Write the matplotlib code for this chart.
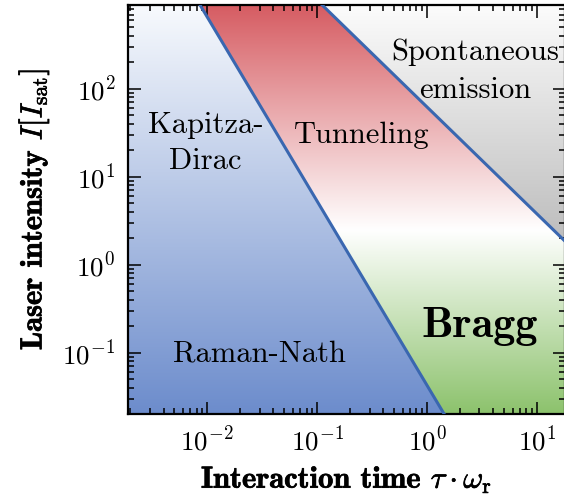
import matplotlib

matplotlib.use('Agg')
import matplotlib.pyplot as plt
import numpy as np
from matplotlib.patches import Polygon
import matplotlib.patheffects as pe

plt.rcParams['font.family'] = 'cmr10'
plt.rcParams['mathtext.fontset'] = 'cm'
plt.rcParams['axes.formatter.use_mathtext'] = True

# axis ranges
TAU_LIM = (1.9e-3, 18.0)
I_LIM = (0.02, 900.0)

# regime boundaries (end points of power-law lines)
KD_TAU = [8.6e-3, 1.43]
KD_I = [900.0, 0.02]
SE_TAU = [0.111, 18.0]
SE_I = [900.0, 1.85]

# vertical colour ramps: (position in axes fraction, rgb)
BLUE_POS = [0.0, 1.0]
BLUE_RGB = [(108, 140, 204), (248, 250, 253)]
MID_POS = [0.0, 0.45, 1.0]
MID_RGB = [(140, 194, 108), (255, 255, 255), (214, 92, 98)]
GREY_POS = [0.4, 1.0]
GREY_RGB = [(186, 186, 186), (252, 252, 252)]

LINE_COLOR = '#3a67b0'


def ramp(pos, rgb, n=600):
    t = np.linspace(0, 1, n)
    rgb = np.array(rgb, dtype=float) / 255
    cols = np.stack([np.interp(t, pos, rgb[:, k]) for k in range(3)], axis=1)
    return cols[:, None, :]


def fill_region(ax, verts, pos, rgb):
    poly = Polygon(verts, closed=True, transform=ax.transData,
                   facecolor='none', edgecolor='none')
    ax.add_patch(poly)
    im = ax.imshow(ramp(pos, rgb), extent=(0, 1, 0, 1), origin='lower',
                   transform=ax.transAxes, aspect='auto', zorder=0,
                   interpolation='bilinear')
    im.set_clip_path(poly)


fig = plt.figure(figsize=(5.64, 4.95), dpi=100)
ax = fig.add_axes([128 / 564, 81 / 495, (565 - 128) / 564, 409 / 495])
ax.set_xscale('log')
ax.set_yscale('log')

x0, x1 = TAU_LIM
y0, y1 = I_LIM

fill_region(ax, [(x0, y0), (x0, y1), (KD_TAU[0], y1), (KD_TAU[1], y0)],
            BLUE_POS, BLUE_RGB)
fill_region(ax, [(KD_TAU[0], y1), (SE_TAU[0], y1), (x1, SE_I[1]), (x1, y0),
                 (KD_TAU[1], y0)], MID_POS, MID_RGB)
fill_region(ax, [(SE_TAU[0], y1), (x1, y1), (x1, SE_I[1])],
            GREY_POS, GREY_RGB)

ax.plot(KD_TAU, KD_I, color=LINE_COLOR, lw=2.2, zorder=3)
ax.plot(SE_TAU, SE_I, color=LINE_COLOR, lw=2.2, zorder=3)

ax.set_xlim(TAU_LIM)
ax.set_ylim(I_LIM)

txt = dict(ha='center', va='center', fontsize=22, zorder=4)
ax.text(9.6e-3, 24.0, 'Kapitza-\nDirac', linespacing=1.4, **txt)
ax.text(0.256, 30.0, 'Tunneling', **txt)
ax.text(2.75, 160.0, 'Spontaneous\nemission', linespacing=1.5, **txt)
ax.text(0.0297, 0.098, 'Raman-Nath', **txt)
ax.text(3.03, 0.2, 'Bragg', ha='center', va='center', fontsize=32,
        family='cmb10', zorder=4)

bold = [pe.withStroke(linewidth=0.5, foreground='black')]
ax.set_xlabel(r'Interaction time $\tau\cdot\omega_\mathrm{r}$',
              fontsize=22, family='cmb10', labelpad=6, path_effects=bold)
ax.set_ylabel(r'Laser intensity $I[I_\mathrm{sat}]$',
              fontsize=22, family='cmb10', labelpad=8, path_effects=bold)

ax.tick_params(which='both', direction='in', top=True, right=True,
               labelsize=19.5, width=1.1)
ax.tick_params(which='major', length=9, pad=9)
ax.tick_params(which='minor', length=4.5)
for s in ax.spines.values():
    s.set_linewidth(1.6)

fig.savefig('out.png', dpi=100)
